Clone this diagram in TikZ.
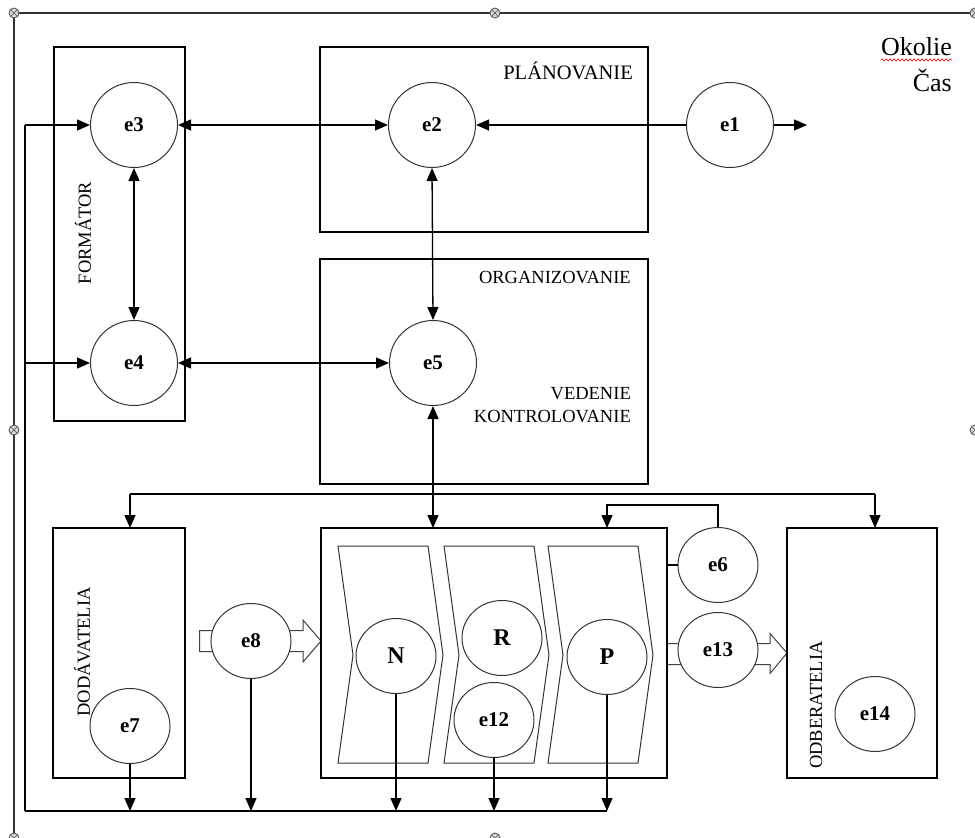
\documentclass[tikz,border=0pt]{standalone}
\usepackage{fontspec}
\setmainfont{Liberation Serif}
\usetikzlibrary{shapes.geometric,arrows.meta,calc,decorations.pathmorphing}
\pgfdeclarelayer{background}
\pgfsetlayers{background,main}

\begin{document}
\begin{tikzpicture}[x=1pt, y=-1pt,
    box/.style={draw, rectangle, line width=1.2pt, inner sep=0pt, outer sep=0pt},
    ell/.style={draw=black!80, ellipse, line width=1pt, fill=white, inner sep=0pt, font=\fontsize{21}{21}\selectfont\bfseries},
    big/.style={ell, minimum width=87pt, minimum height=85pt},
    small/.style={ell, minimum width=80pt, minimum height=75pt},
    lbl/.style={font=\fontsize{18.5}{23}\selectfont, inner sep=0pt},
    arr/.style={-{Triangle[length=13pt,width=11pt]}, line width=1.3pt},
    dbl/.style={{Triangle[length=13pt,width=11pt]}-{Triangle[length=13pt,width=11pt]}, line width=1.3pt},
    wire/.style={line width=1.3pt},
    hollow/.style={draw=black!75, fill=white, line width=1pt},
    handle/.style={draw=black!70, fill=black!15, line width=0.8pt}]
    \useasboundingbox (0,0) rectangle (975,838);

    % canvas frame with its handles
    \draw[line width=1.4pt, black!80] (975,13) -- (14,13) -- (14,838);
    \foreach \hx/\hy in {14/13, 495/13, 975/13, 14/430, 975/430, 14/838, 495/838} {
        \draw[handle] (\hx,\hy) circle (5);
        \draw[black!70, line width=0.6pt] (\hx-3.5,\hy-3.5) -- (\hx+3.5,\hy+3.5) (\hx-3.5,\hy+3.5) -- (\hx+3.5,\hy-3.5);
    }

    % boxes
    \node[box, minimum width=131pt, minimum height=374pt] (form) at (119.5,234) {};
    \node[box, minimum width=328pt, minimum height=185pt] (plan) at (484,139.5) {};
    \node[box, minimum width=328pt, minimum height=225pt] (org) at (484,371.5) {};
    \node[box, minimum width=132pt, minimum height=250pt] (dod) at (119,653) {};
    \node[box, minimum width=346pt, minimum height=250pt] (proc) at (494,653) {};
    \node[box, minimum width=150pt, minimum height=250pt] (odb) at (862,653) {};

    % texts
    \node[lbl, rotate=90] (formtxt) at (83,233) {FORMÁTOR};
    \node[lbl, anchor=east, font=\fontsize{20.5}{23}\selectfont] (plantxt) at (633,71) {PLÁNOVANIE};
    \node[lbl, anchor=east] (orgtxt) at (631,278) {ORGANIZOVANIE};
    \node[lbl, anchor=east, align=right] (vedtxt) at (631,405.5) {VEDENIE\\KONTROLOVANIE};
    \node[lbl, rotate=90] (dodtxt) at (82,652) {DODÁVATELIA};
    \node[lbl, rotate=90] (odbtxt) at (816,705) {ODBERATELIA};
    \node[font=\fontsize{26}{26}\selectfont, inner sep=0pt, anchor=east] (okolie) at (952,47) {Okolie};
    \node[font=\fontsize{26}{26}\selectfont, inner sep=0pt, anchor=east] (cas) at (952,80) {Čas};
    \draw[red, line width=0.6pt, decorate, decoration={snake, amplitude=1.2pt, segment length=4pt}]
        ($(okolie.base west)+(0,4)$) -- ($(okolie.base east)+(0,4)$);

    % process phases
    \foreach \cx in {338,444,548}
        \draw[black!80, line width=1pt] (\cx,546) -- (\cx+90,546) -- (\cx+105,655) -- (\cx+90,763)
            -- (\cx,763) -- (\cx+15,655) -- cycle;

    % elements
    \node[big] (e1) at (730,125) {e1};
    \node[big] (e2) at (432,125) {e2};
    \node[big] (e3) at (134,125) {e3};
    \node[big] (e4) at (134,363) {e4};
    \node[big] (e5) at (433,363) {e5};
    \node[small] (e6) at (718,565) {e6};
    \node[small] (e7) at (130,726) {e7};
    \node[small] (e8) at (251,641) {e8};
    \node[small, font=\fontsize{24}{24}\selectfont\bfseries] (n) at (396,656) {N};
    \node[small, font=\fontsize{24}{24}\selectfont\bfseries] (r) at (502,638) {R};
    \node[small] (e12) at (494,720) {e12};
    \node[small, font=\fontsize{24}{24}\selectfont\bfseries] (p) at (607,657) {P};
    \node[small] (e13) at (718,650) {e13};
    \node[small] (e14) at (875,714) {e14};

    % helper points
    \coordinate (e1out) at (807,125);
    \coordinate (loopTop) at (25,125);
    \coordinate (loopMid) at (25,363);
    \coordinate (bus) at (25,811);
    \coordinate (dist) at (0,494);
    \coordinate (e6up) at (718,505);

    % block arrows (behind the elements)
    \begin{pgfonlayer}{background}
        \draw[hollow] ($(e8.west)+(-11,-10.5)$) -- ($(proc.west |- e8)+(-18,-10.5)$) -- ($(proc.west |- e8)+(-18,-21)$)
            -- (proc.west |- e8) -- ($(proc.west |- e8)+(-18,21)$) -- ($(proc.west |- e8)+(-18,10.5)$)
            -- ($(e8.west)+(-11,10.5)$) -- cycle;
        \draw[hollow] ($(proc.east)+(0,-9.5)$) -- ($(odb.west)+(-17,-9.5)$) -- ($(odb.west)+(-17,-19.5)$)
            -- (odb.west) -- ($(odb.west)+(-17,20.5)$) -- ($(odb.west)+(-17,11.5)$)
            -- ($(proc.east)+(0,11.5)$) -- cycle;
    \end{pgfonlayer}

    % top connectors
    \draw[arr] (e1.west) -- (e2.east);
    \draw[arr] (e1.east) -- (e1out);
    \draw[dbl] (e3.east) -- (e2.west);
    \draw[dbl] (e3.south) -- (e4.north);
    \draw[dbl] (e2.south) -- (e5.north);
    \draw[dbl] (e4.east) -- (e5.west);

    % feedback loop
    \draw[wire] (bus) -- (loopTop);
    \draw[arr] (loopTop) -- (e3.west);
    \draw[arr] (loopMid) -- (e4.west);
    \draw[wire] (bus) -- (p.south |- bus);

    % distribution from e5
    \draw[dbl] (e5.south) -- (e5.south |- proc.north);
    \draw[wire] (e7 |- dist) -- (e14 |- dist);
    \draw[arr] (e7 |- dist) -- (e7 |- dod.north);
    \draw[arr] (e14 |- dist) -- (e14 |- odb.north);

    % e6 feedback
    \draw[wire] (proc.east |- e6) -- (e6.west);
    \draw[arr] (e6.north) -- (e6up) -| (p |- proc.north);

    % outputs to the bus
    \foreach \el in {e7, e8, n, e12, p}
        \draw[arr] (\el.south) -- (\el.south |- bus);
\end{tikzpicture}
\end{document}
